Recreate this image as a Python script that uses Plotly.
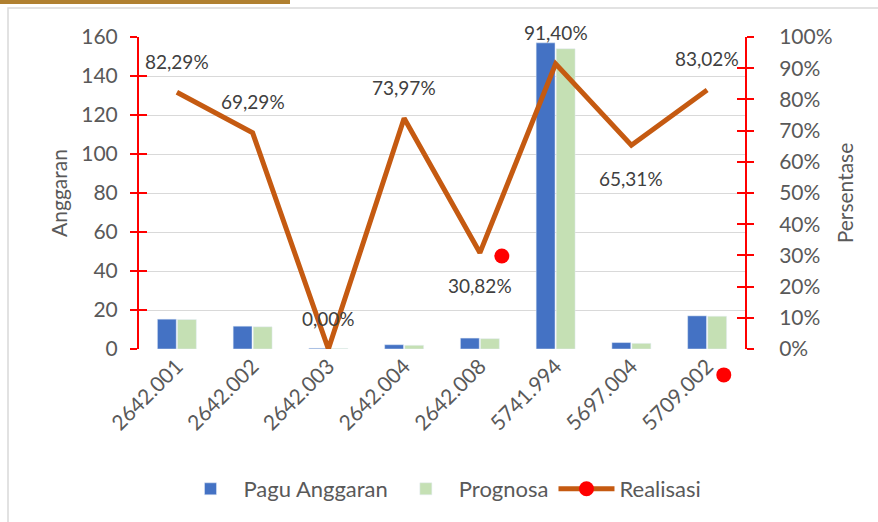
import plotly.graph_objects as go

categories = ["2642.001", "2642.002", "2642.003", "2642.004", "2642.008", "5741.994", "5697.004", "5709.002"]
pagu = [15.3, 11.7, 0.4, 2.2, 5.6, 157.0, 3.3, 17.0]
prognosa = [15.1, 11.4, 0.3, 1.9, 5.3, 154.0, 2.9, 16.8]
realisasi = [82.29, 69.29, 0.00, 73.97, 30.82, 91.40, 65.31, 83.02]
label_pos = ["top", "top", "top", "top", "bottom", "top", "bottom", "top"]
# stray red markers visible in the original picture (category index position, percent)
stray_x = [4.29, 5.5, 7.22]
stray_y = [29.8, None, -8.3]
left_ticks = [0, 20, 40, 60, 80, 100, 120, 140, 160]
right_ticks = [0, 10, 20, 30, 40, 50, 60, 70, 80, 90, 100]

FONT = "Lato, 'Open Sans', sans-serif"
TXT = "#595959"
RED = "#FF0000"
ORANGE = "#C55A11"

# layout geometry (pixels)
W, H = 878, 522
ML, MR, MT, MB = 139, 133, 37, 133
PLOT_H = 312                      # height of the main chart area
PAPER_H = H - MT - MB             # 352
EXTRA = PAPER_H - PLOT_H          # room below the main area for the stray marker
DOM0 = EXTRA / PAPER_H
PAPER_W = W - ML - MR


def py(pix):
    return (H - MB - pix) / PAPER_H


def px(pix):
    return (pix - ML) / PAPER_W


fig = go.Figure()
fig.add_trace(go.Bar(x=categories, y=pagu, name="Pagu Anggaran", marker_color="#4472C4",
                     yaxis="y", xaxis="x"))
fig.add_trace(go.Bar(x=categories, y=prognosa, name="Prognosa", marker_color="#C5E0B4",
                     yaxis="y", xaxis="x"))
fig.add_trace(go.Scatter(x=categories, y=realisasi, mode="lines", name="Realisasi",
                         line=dict(color=ORANGE, width=5), yaxis="y2", xaxis="x",
                         showlegend=False))
# inner-tick helper axes (invisible traces)
fig.add_trace(go.Scatter(x=categories, y=pagu, mode="none", yaxis="y3", xaxis="x",
                         showlegend=False, hoverinfo="skip"))
fig.add_trace(go.Scatter(x=categories, y=realisasi, mode="none", yaxis="y4", xaxis="x",
                         showlegend=False, hoverinfo="skip"))
fig.add_trace(go.Scatter(x=stray_x, y=stray_y, mode="lines+markers", name="Realisasi",
                         line=dict(color=ORANGE, width=5),
                         marker=dict(color=RED, size=15), connectgaps=False,
                         xaxis="x3", yaxis="y6", cliponaxis=False))

for i, (v, p) in enumerate(zip(realisasi, label_pos)):
    fig.add_annotation(x=i, y=v, xref="x2", yref="y2",
                       text=f"{v:.2f}%".replace(".", ","), showarrow=False,
                       yshift=31 if p == "top" else -33,
                       font=dict(family=FONT, size=19, color="#404040"))

dom = [DOM0, 1]
fig.update_layout(
    width=W, height=H,
    margin=dict(l=ML, r=MR, t=MT, b=MB),
    paper_bgcolor="white", plot_bgcolor="rgba(0,0,0,0)",
    font=dict(family=FONT, size=21, color=TXT),
    barmode="group", bargap=0.47, bargroupgap=0.06,
    xaxis=dict(type="category", range=[-0.5, 7.5], tickangle=-45, showgrid=False,
               zeroline=False, showline=False, ticks="", automargin=False,
               tickfont=dict(size=21, color=TXT)),
    xaxis2=dict(overlaying="x", range=[-0.5, 7.5], visible=False, automargin=False),
    xaxis3=dict(domain=[0, 1], range=[-0.5, 7.5], anchor="y6", visible=False,
                automargin=False),
    yaxis=dict(domain=dom, range=[0, 160], tickvals=left_ticks, showgrid=True,
               gridcolor="#D9D9D9", gridwidth=1, zeroline=False, showline=True,
               linecolor=RED, linewidth=2, ticks="outside", ticklen=7, tickcolor=RED,
               tickwidth=2, ticklabelstandoff=8, automargin=False,
               title=dict(text="Anggaran", standoff=8, font=dict(size=21, color=TXT))),
    yaxis2=dict(domain=dom, range=[0, 100], tickvals=right_ticks,
                ticktext=[f"{t}%" for t in right_ticks], overlaying="y", anchor="x",
                side="right", showgrid=False, zeroline=False, showline=True,
                linecolor=RED, linewidth=2, ticks="outside", ticklen=7, tickcolor=RED,
                tickwidth=2, ticklabelstandoff=21, automargin=False,
                title=dict(text="Persentase", standoff=7, font=dict(size=21, color=TXT))),
    yaxis3=dict(domain=dom, range=[0, 160], tickvals=left_ticks, overlaying="y", side="left",
                anchor="x", showgrid=False, zeroline=False, showline=False, ticks="inside",
                ticklen=8, tickcolor=RED, tickwidth=2, showticklabels=False, automargin=False),
    yaxis4=dict(domain=dom, range=[0, 100], tickvals=right_ticks, overlaying="y", side="right",
                anchor="x", showgrid=False, zeroline=False, showline=False, ticks="inside",
                ticklen=8, tickcolor=RED, tickwidth=2, showticklabels=False, automargin=False),
    yaxis6=dict(domain=[0, 1], range=[-EXTRA / PLOT_H * 100, 100], anchor="x3",
                visible=False, automargin=False),
    legend=dict(orientation="h", x=0.5, xanchor="center", y=py(489), yanchor="middle",
                font=dict(size=22, color=TXT), itemwidth=56, traceorder="normal"),
    shapes=[
        dict(type="rect", xref="paper", yref="paper", x0=px(8), x1=px(890),
             y0=py(530), y1=py(8), line=dict(color="#D9D9D9", width=1.5),
             fillcolor="rgba(0,0,0,0)", layer="below"),
        dict(type="rect", xref="paper", yref="paper", x0=px(-2), x1=px(290),
             y0=py(4), y1=py(-2), line=dict(width=0),
             fillcolor="#B08030", layer="below"),
    ],
)

fig.write_html("out.html", config={"displayModeBar": False},
               post_script="document.body.style.margin='0';")
